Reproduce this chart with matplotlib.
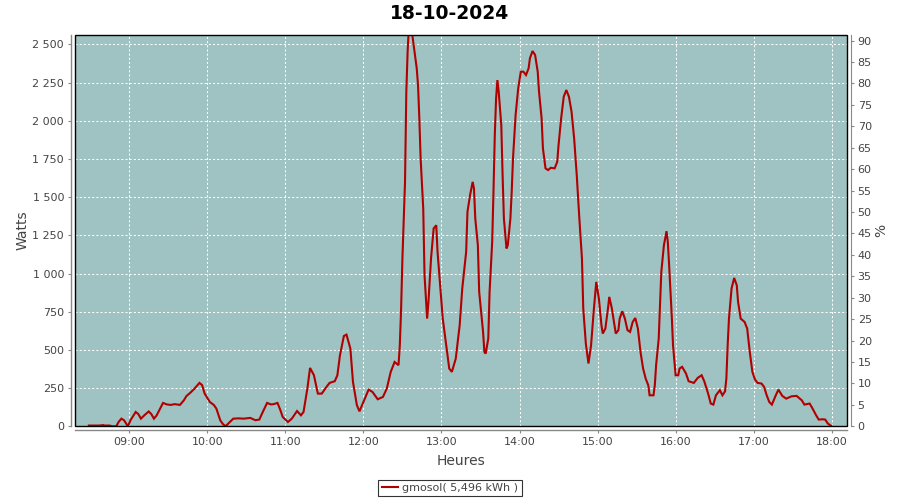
import matplotlib
matplotlib.use("Agg")
import matplotlib.pyplot as plt
import matplotlib.dates as mdates
from matplotlib.ticker import FuncFormatter, MultipleLocator
from matplotlib.patches import Rectangle
import pandas as pd

title = "18-10-2024"
series_name = "gmosol( 5,496 kWh )"

times = [
    "08:29", "08:33", "08:37", "08:40", "08:41", "08:45", "08:47", "08:50", "08:52", "08:54",
    "08:56", "08:59", "09:01", "09:05", "09:07", "09:09", "09:12", "09:15", "09:17", "09:19",
    "09:21", "09:24", "09:26", "09:29", "09:32", "09:35", "09:39", "09:42", "09:44", "09:47",
    "09:50", "09:54", "09:56", "09:58", "10:02", "10:05", "10:07", "10:10", "10:12", "10:14",
    "10:17", "10:20", "10:24", "10:28", "10:33", "10:37", "10:40", "10:43", "10:46", "10:49",
    "10:51", "10:54", "10:56", "10:58", "11:02", "11:05", "11:09", "11:12", "11:14", "11:17",
    "11:19", "11:22", "11:25", "11:28", "11:32", "11:34", "11:38", "11:40", "11:42", "11:45",
    "11:47", "11:50", "11:52", "11:55", "11:57", "12:00", "12:04", "12:07", "12:11", "12:15",
    "12:18", "12:21", "12:24", "12:27", "12:28", "12:29", "12:30", "12:32", "12:33", "12:34",
    "12:35", "12:37", "12:39", "12:41", "12:42", "12:43", "12:44", "12:46", "12:47", "12:49",
    "12:50", "12:52", "12:54", "12:56", "12:57", "12:59", "13:01", "13:04", "13:06", "13:08",
    "13:11", "13:14", "13:16", "13:19", "13:20", "13:22", "13:24", "13:25", "13:26", "13:28",
    "13:29", "13:32", "13:33", "13:34", "13:36", "13:37", "13:39", "13:40", "13:41", "13:42",
    "13:43", "13:44", "13:46", "13:47", "13:48", "13:50", "13:51", "13:53", "13:54", "13:55",
    "13:57", "13:59", "14:01", "14:03", "14:05", "14:07", "14:08", "14:10", "14:12", "14:14",
    "14:15", "14:17", "14:18", "14:20", "14:22", "14:24", "14:27", "14:29", "14:30", "14:32",
    "14:34", "14:36", "14:38", "14:40", "14:42", "14:44", "14:46", "14:48", "14:49", "14:51",
    "14:53", "14:55", "14:57", "14:59", "15:01", "15:03", "15:04", "15:06", "15:08", "15:09",
    "15:11", "15:13", "15:14", "15:16", "15:17", "15:19", "15:21", "15:23", "15:25", "15:27",
    "15:29", "15:31", "15:33", "15:35", "15:37", "15:39", "15:40", "15:43", "15:44", "15:45",
    "15:47", "15:48", "15:49", "15:51", "15:53", "15:54", "15:55", "15:57", "15:58", "16:00",
    "16:02", "16:03", "16:05", "16:08", "16:10", "16:14", "16:17", "16:20", "16:22", "16:25",
    "16:27", "16:29", "16:31", "16:34", "16:36", "16:38", "16:39", "16:40", "16:41", "16:43",
    "16:45", "16:47", "16:48", "16:50", "16:53", "16:55", "16:57", "16:59", "17:01", "17:03",
    "17:06", "17:08", "17:10", "17:12", "17:14", "17:17", "17:19", "17:22", "17:25", "17:29",
    "17:33", "17:37", "17:39", "17:43", "17:45", "17:48", "17:50", "17:53", "17:55", "17:57",
    "18:00",
]

watts = [
    5, 5, 5, 8, 5, 5, 0, 0, 30, 50,
    40, 0, 40, 94, 80, 50, 75, 97, 80, 50,
    70, 120, 153, 143, 140, 145, 140, 170, 198, 220,
    245, 284, 270, 214, 159, 140, 116, 39, 15, 0,
    25, 50, 52, 50, 55, 40, 44, 100, 153, 143,
    145, 153, 110, 61, 28, 50, 100, 72, 94, 250,
    382, 334, 214, 214, 262, 284, 295, 334, 465, 591,
    600, 509, 290, 138, 98, 159, 240, 225, 177, 192,
    247, 356, 421, 400, 530, 771, 1098, 1600, 2190, 2452,
    2620, 2600, 2474, 2343, 2233, 2015, 1753, 1426, 989, 705,
    814, 1098, 1295, 1316, 1142, 923, 705, 509, 378, 356,
    443, 661, 902, 1142, 1404, 1513, 1600, 1557, 1360, 1185,
    880, 618, 487, 476, 574, 880, 1207, 1535, 1906, 2146,
    2266, 2190, 1971, 1644, 1360, 1164, 1185, 1360, 1535, 1753,
    2037, 2212, 2321, 2321, 2299, 2343, 2408, 2456, 2430, 2321,
    2190, 2015, 1819, 1688, 1677, 1692, 1688, 1731, 1840, 2015,
    2157, 2201, 2157, 2059, 1884, 1644, 1360, 1098, 771, 540,
    411, 530, 750, 945, 836, 661, 607, 640, 771, 847,
    771, 661, 607, 629, 705, 753, 705, 629, 618, 683,
    709, 640, 487, 378, 312, 268, 203, 203, 268, 400,
    574, 793, 1011, 1185, 1277, 1207, 1055, 727, 530, 334,
    334, 378, 389, 345, 295, 284, 317, 334, 295, 214,
    149, 142, 203, 236, 203, 229, 312, 530, 705, 902,
    971, 923, 814, 705, 683, 640, 487, 356, 306, 284,
    280, 258, 203, 159, 142, 203, 240, 199, 181, 196,
    199, 170, 142, 149, 120, 72, 44, 46, 44, 18,
    0,
]

x_ticks = ["09:00", "10:00", "11:00", "12:00", "13:00", "14:00", "15:00", "16:00", "17:00", "18:00"]
x_range = ["08:18:20", "18:11:30"]
watt_range = [0, 2561]
pct_range = [0, 91.3]

day = "2024-10-18 "
t = pd.to_datetime([day + s for s in times])
tick_dt = pd.to_datetime([day + s for s in x_ticks])
xr = pd.to_datetime([day + s for s in x_range])

BG = "#9fc3c2"
LINE = "#b00000"
TXT = "#444444"
AX = "#888888"
off = 4 * 72 / 100  # 4 px outward

fig = plt.figure(figsize=(9, 5), dpi=100)
ax = fig.add_axes([75 / 900, 1 - 426.3 / 500, (846.7 - 75) / 900, (426.3 - 35) / 500])
ax.set_facecolor(BG)

ax.plot(t, watts, color=LINE, lw=1.5, zorder=3, solid_joinstyle="miter")

ax.set_xlim(xr[0], xr[1])
ax.set_ylim(*watt_range)
ax.set_xticks(tick_dt)
ax.xaxis.set_major_formatter(mdates.DateFormatter("%H:%M"))
ax.yaxis.set_major_locator(MultipleLocator(250))
ax.yaxis.set_major_formatter(FuncFormatter(lambda v, p: f"{int(v):,}".replace(",", "\u00a0")))

ax.grid(True, color="white", lw=0.75, linestyle=(0, (2, 2)), zorder=1)
ax.set_axisbelow(True)

for side in ["top", "right"]:
    ax.spines[side].set_visible(False)
for side in ["left", "bottom"]:
    ax.spines[side].set_position(("outward", off))
    ax.spines[side].set_color(AX)
    ax.spines[side].set_linewidth(1)

ax.tick_params(axis="both", colors=AX, labelcolor=TXT, labelsize=8, length=2.5, width=0.8, pad=2.5)
ax.set_xlabel("Heures", fontsize=10, color=TXT, labelpad=5)
ax.set_ylabel("Watts", fontsize=10, color=TXT, labelpad=2)

ax2 = ax.twinx()
ax2.set_ylim(*pct_range)
ax2.yaxis.set_major_locator(MultipleLocator(5))
for side in ["top", "left", "bottom"]:
    ax2.spines[side].set_visible(False)
ax2.spines["right"].set_position(("outward", off))
ax2.spines["right"].set_color(AX)
ax2.tick_params(axis="y", colors=AX, labelcolor=TXT, labelsize=8, length=2.5, width=0.8, pad=2.5)
ax2.set_ylabel("%", fontsize=10, color=TXT, labelpad=2)

frame = Rectangle((0, 0), 1, 1, transform=ax.transAxes, fill=False, edgecolor="black",
                  lw=1, zorder=10, clip_on=False)
ax2.add_patch(frame)

fig.text(0.5, 1 - 13.5 / 500, title, ha="center", va="center", fontsize=13.5,
         fontweight="bold", color="black")

handle = plt.Line2D([], [], color=LINE, lw=1.5)
leg = fig.legend([handle], [series_name], loc="center", bbox_to_anchor=(450 / 900, 1 - 488 / 500),
                 fontsize=8, frameon=True, fancybox=False, shadow=False, handlelength=1.5,
                 handletextpad=0.35, borderpad=0.3, borderaxespad=0)
leg.get_frame().set_edgecolor("black")
leg.get_frame().set_linewidth(0.8)
for txt in leg.get_texts():
    txt.set_color(TXT)

fig.savefig("out.png", dpi=100, facecolor="white")
